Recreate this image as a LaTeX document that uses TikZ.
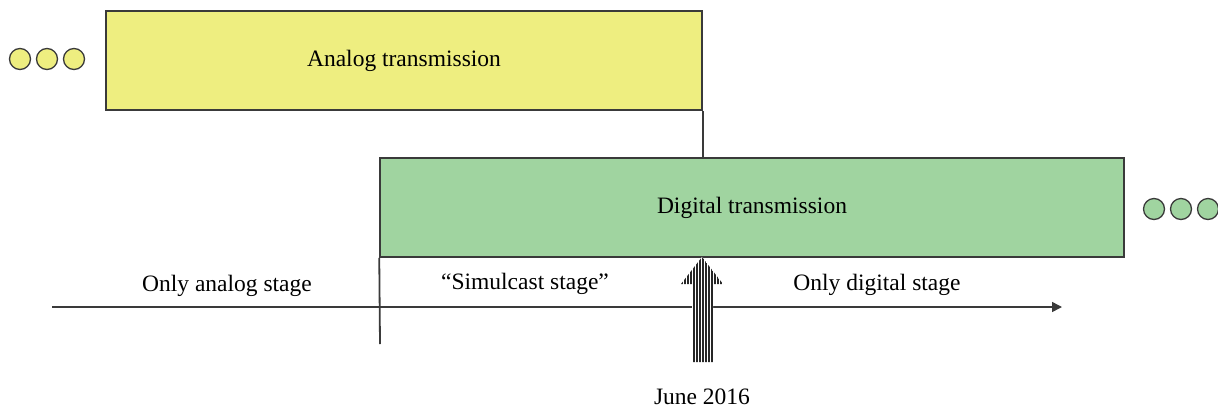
\documentclass[tikz,border=0pt]{standalone}
\usepackage{fontspec}
\setmainfont{Liberation Serif}
\usetikzlibrary{arrows.meta}
\definecolor{ayellow}{HTML}{EEEE80}
\definecolor{dgreen}{HTML}{A0D4A0}
\definecolor{edge}{HTML}{3A3A3A}
\begin{document}
\begin{tikzpicture}[x=1pt,y=-1pt,
  band/.style={draw=edge,line width=1.5pt,minimum height=99pt,inner sep=0pt,font=\fontsize{23.5}{28}\selectfont},
  dot/.style={circle,draw=edge,line width=1.3pt,minimum size=21pt,inner sep=0pt},
  lbl/.style={font=\fontsize{23.5}{28}\selectfont,inner sep=0pt},
  ln/.style={draw=edge,line width=1.8pt}]
\useasboundingbox (0,0) rectangle (1218,410);
\node[band,fill=ayellow,minimum width=596pt] (analog) at (404,60.5) {Analog transmission};
\node[band,fill=dgreen,minimum width=744pt] (digital) at (752,207.5) {Digital transmission};
\node[dot,fill=ayellow] (y1) at (20,59) {};
\node[dot,fill=ayellow] (y2) at (47,59) {};
\node[dot,fill=ayellow] (y3) at (74,59) {};
\node[dot,fill=dgreen] (g1) at (1154,209) {};
\node[dot,fill=dgreen] (g2) at (1181,209) {};
\node[dot,fill=dgreen] (g3) at (1208,209) {};
\draw[ln] (analog.south east) -- (digital.north west -| analog.south east);
\coordinate (vbot) at (380,344);
\draw[ln] (digital.south west) -- (vbot);
\coordinate (astart) at (52,307);
\coordinate (aend) at (1062,307);
\draw[ln,line width=1.5pt,-{Triangle[length=10pt,width=10pt]}] (astart) -- (aend);
\node[lbl] (oa) at (227,286) {Only analog stage};
\node[lbl] (sc) at (525,284) {“Simulcast stage”};
\node[lbl] (od) at (877,285) {Only digital stage};
\node[lbl] (june) at (702,397) {June 2016};
% hatched arrow
\begin{scope}
\path[clip] (702,257) -- (723,284) -- (713,284) -- (713,362) -- (692,362) -- (692,284) -- (681,284) -- cycle;
\fill[white] (678,255) rectangle (726,365);
\foreach \xx in {682,685,...,724} {
  \draw[black!85,line width=1.8pt] (\xx,255) -- (\xx,365);
}
\end{scope}
\end{tikzpicture}
\end{document}
